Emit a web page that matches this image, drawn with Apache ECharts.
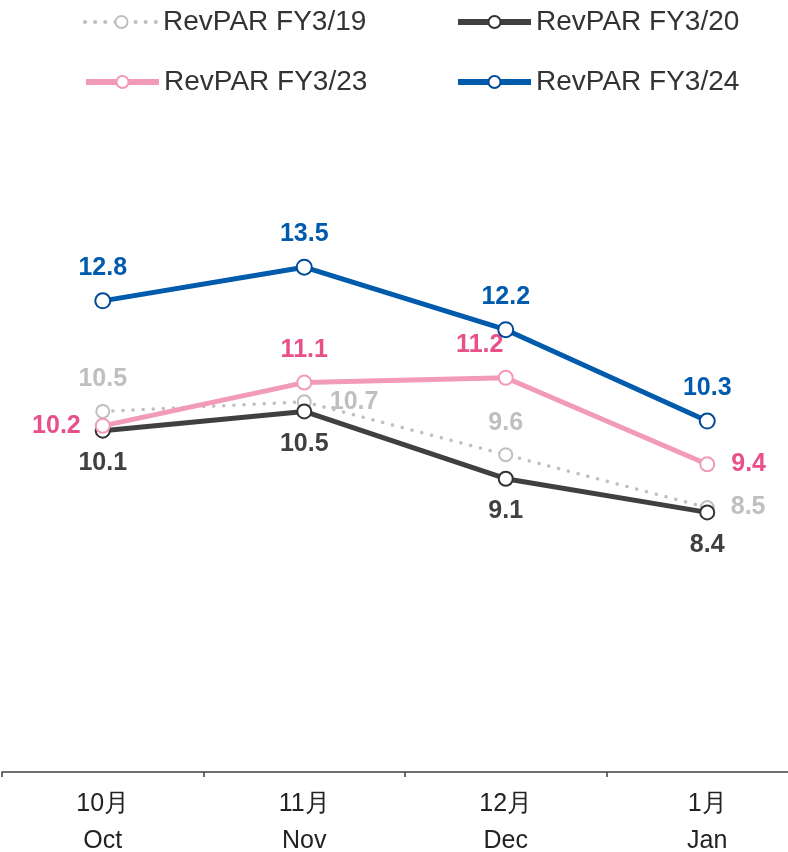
<!DOCTYPE html>
<html><head><meta charset="utf-8">
<script src="https://cdn.jsdelivr.net/npm/echarts@6/dist/echarts.min.js"></script>
<style>html,body{margin:0;padding:0;background:#fff;overflow:hidden}#c{width:808px;height:852px}</style>
</head><body><div id="c"></div>
<script>
const categories = ['10月\nOct', '11月\nNov', '12月\nDec', '1月\nJan'];
const fy19 = [10.5, 10.7, 9.6, 8.5];
const fy20 = [10.1, 10.5, 9.1, 8.4];
const fy23 = [10.2, 11.1, 11.2, 9.4];
const fy24 = [12.8, 13.5, 12.2, 10.3];
const names = ['RevPAR FY3/19', 'RevPAR FY3/20', 'RevPAR FY3/23', 'RevPAR FY3/24'];

const FONT = '"Liberation Sans", Arial, sans-serif';
const lblBase = {show: true, fontFamily: FONT, fontSize: 25, fontWeight: 'bold', formatter: p => p.value.toFixed(1)};

function perPoint(vals, specs) {
  return vals.map((v, i) => ({value: v, label: specs[i]}));
}

const chart = echarts.init(document.getElementById('c'));
const legendCommon = {itemWidth: 73, itemHeight: 15, itemGap: 5, textStyle: {fontFamily: FONT, fontSize: 28, color: '#333'}};
const lw = [3.5, 5, 5, 5];
chart.setOption({
  animation: false,
  legend: [
    Object.assign({data: [{name: names[0], lineStyle: {width: 4}}], left: 78, top: 3}, legendCommon),
    Object.assign({data: [{name: names[1], lineStyle: {width: 6}}], left: 450, top: 3}, legendCommon),
    Object.assign({data: [{name: names[2], lineStyle: {width: 6}}], left: 78, top: 63}, legendCommon),
    Object.assign({data: [{name: names[3], lineStyle: {width: 6}}], left: 450, top: 63}, legendCommon)
  ],
  grid: {left: 2, right: 0, top: 147, bottom: 80, containLabel: false, outerBoundsMode: 'none'},
  xAxis: {
    type: 'category', data: categories, boundaryGap: true,
    axisLine: {lineStyle: {color: '#404040', width: 1.5}},
    axisTick: {show: true, length: 5, lineStyle: {color: '#404040', width: 1.5}},
    axisLabel: {fontFamily: FONT, fontSize: 25, color: '#222', lineHeight: 37, margin: 14}
  },
  yAxis: {type: 'value', min: 3, max: 16, show: false, splitLine: {show: false}},
  series: [
    {
      name: names[0], type: 'line', z: 2,
      data: perPoint(fy19, [{position: 'top'}, {position: 'right', offset: [6, 0]}, {position: 'top', distance: 12}, {position: 'right', offset: [4, 0]}]),
      symbol: 'circle', symbolSize: 13,
      itemStyle: {color: '#fff', borderColor: '#bfbfbf', borderWidth: 2},
      lineStyle: {color: '#bfbfbf', width: lw[0], type: [0.1, 10], cap: 'round'},
      label: Object.assign({}, lblBase, {color: '#bfbfbf', distance: 12})
    },
    {
      name: names[1], type: 'line', z: 3,
      data: fy20,
      symbol: 'circle', symbolSize: 14,
      itemStyle: {color: '#fff', borderColor: '#333', borderWidth: 2},
      lineStyle: {color: '#404040', width: lw[1]},
      label: Object.assign({}, lblBase, {color: '#404040', position: 'bottom', distance: 12})
    },
    {
      name: names[2], type: 'line', z: 4,
      data: perPoint(fy23, [{position: 'left', distance: 14}, {position: 'top'}, {position: 'top', offset: [-26, 0]}, {position: 'right', distance: 16}]),
      symbol: 'circle', symbolSize: 14,
      itemStyle: {color: '#fff', borderColor: '#f29ab9', borderWidth: 2},
      lineStyle: {color: '#f29ab9', width: lw[2]},
      label: Object.assign({}, lblBase, {color: '#e8508a', distance: 12})
    },
    {
      name: names[3], type: 'line', z: 5,
      data: fy24,
      symbol: 'circle', symbolSize: 15,
      itemStyle: {color: '#fff', borderColor: '#004a96', borderWidth: 2},
      lineStyle: {color: '#005bac', width: lw[3]},
      label: Object.assign({}, lblBase, {color: '#005bac', position: 'top', distance: 12})
    }
  ]
});
</script></body></html>
